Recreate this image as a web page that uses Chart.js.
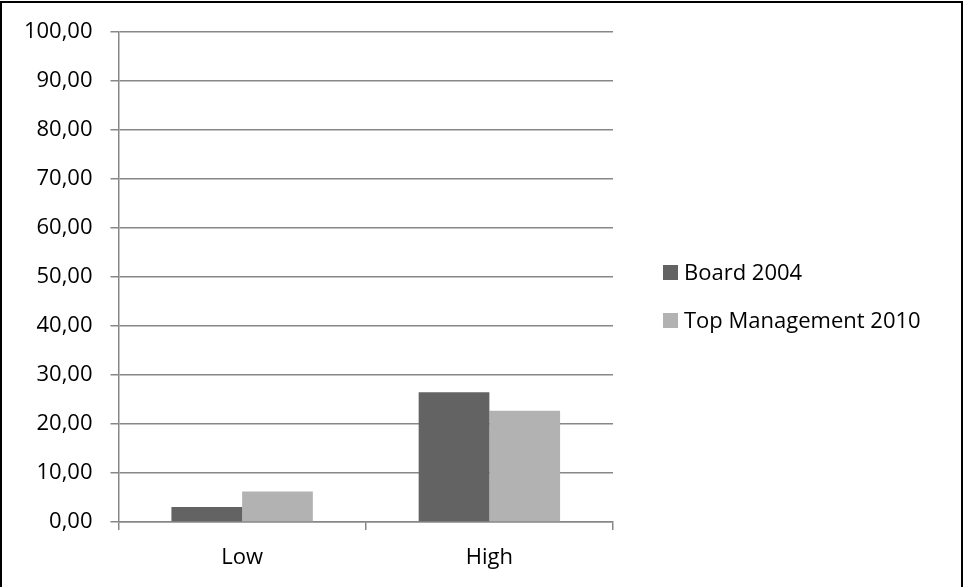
<!DOCTYPE html>
<html>
<head>
<meta charset="utf-8">
<script src="https://cdn.jsdelivr.net/npm/chart.js@4"></script>
<style>
  html, body { margin: 0; padding: 0; background: #fff; overflow: hidden; }
  #wrap { position: relative; width: 966px; height: 587px; }
  canvas { display: block; }
  #frame { position: absolute; left: 0; top: 1px; width: 963px; height: 640px; border: 2px solid #000; box-sizing: border-box; pointer-events: none; }
</style>
</head>
<body>
<div id="wrap">
  <canvas id="chart" width="966" height="587"></canvas>
  <div id="frame"></div>
</div>
<script>
const categories = ['Low', 'High'];
const board2004 = [3.05, 26.5];
const topMgmt2010 = [6.25, 22.7];
const yTickLabels = ['0,00', '10,00', '20,00', '30,00', '40,00', '50,00', '60,00', '70,00', '80,00', '90,00', '100,00'];

const axisGray = '#878787';
const font = { family: '"Open Sans", sans-serif', size: 22 };

// side legend drawn by hand, Chart.js caps a right legend at a fraction of the width
const sideLegend = {
    id: 'sideLegend',
    afterDraw(chart) {
        const ctx = chart.ctx;
        const area = chart.chartArea;
        ctx.save();
        ctx.font = `${font.size}px ${font.family}`;
        ctx.textBaseline = 'middle';
        ctx.textAlign = 'left';
        chart.data.datasets.forEach((ds, i) => {
            const x = area.right + 50;
            const y = area.top + 240.5 + i * 48;
            ctx.fillStyle = ds.backgroundColor;
            ctx.fillRect(x, y - 7.5, 15, 15);
            ctx.fillStyle = '#000';
            ctx.fillText(ds.label, x + 21, y + 1);
        });
        ctx.restore();
    }
};

new Chart(document.getElementById('chart'), {
    type: 'bar',
    data: {
        labels: categories,
        datasets: [
            { label: 'Board 2004', data: board2004, backgroundColor: '#636363' },
            { label: 'Top Management 2010', data: topMgmt2010, backgroundColor: '#b2b2b2' }
        ]
    },
    options: {
        responsive: false,
        animation: false,
        devicePixelRatio: 1,
        barPercentage: 1,
        categoryPercentage: 0.572,
        layout: { padding: { top: 32, bottom: 0, left: 0, right: 353 } },
        plugins: {
            tooltip: { enabled: false },
            legend: { display: false }
        },
        scales: {
            x: {
                grid: { offset: true, drawOnChartArea: false, drawTicks: true, tickLength: 8, color: axisGray, lineWidth: 1.5 },
                border: { color: axisGray, width: 1.5 },
                ticks: { color: '#000', font: font, padding: 15 },
                afterFit: s => { s.height = 65; }
            },
            y: {
                min: 0,
                max: 100,
                ticks: {
                    stepSize: 10,
                    color: '#000',
                    font: font,
                    padding: 18,
                    callback: (v, i) => yTickLabels[i]
                },
                grid: { color: axisGray, lineWidth: 1.5, tickLength: 8 },
                border: { color: axisGray, width: 1.5 },
                afterFit: s => { s.width = 118.5; }
            }
        }
    },
    plugins: [sideLegend]
});
</script>
</body>
</html>
